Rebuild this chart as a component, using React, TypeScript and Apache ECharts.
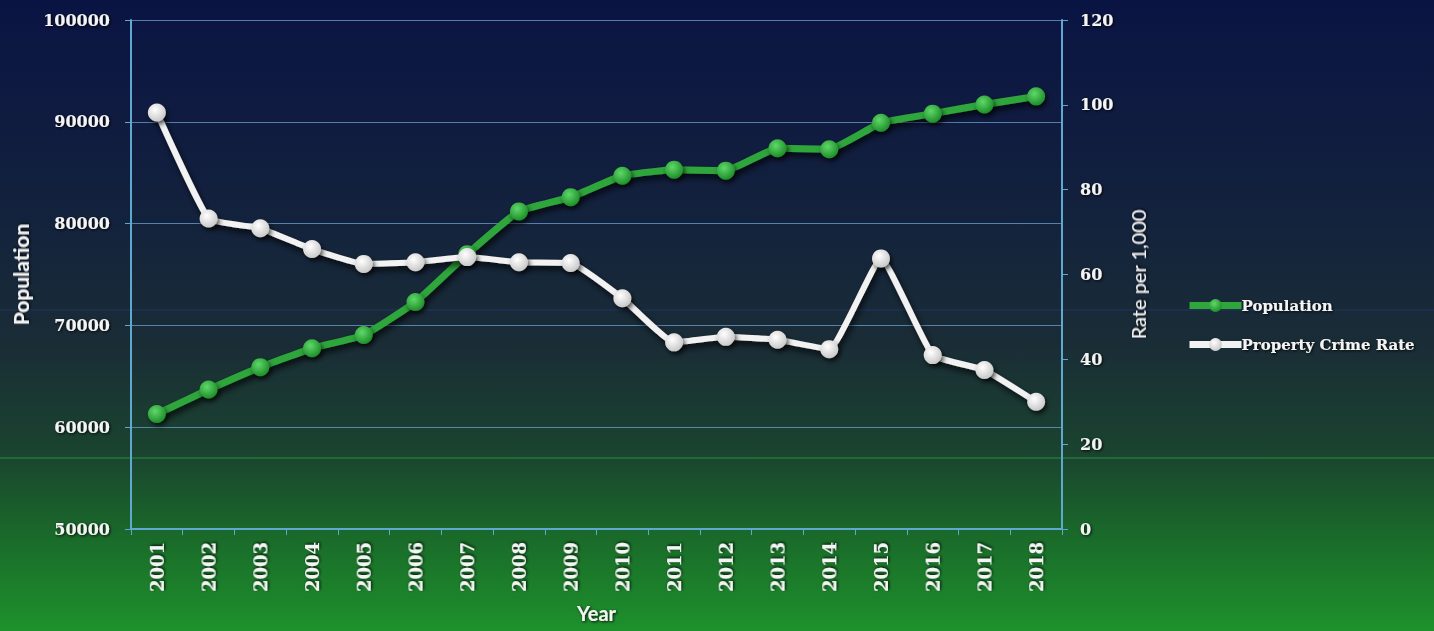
import React, { useEffect, useRef } from "react";
import * as echarts from "echarts";

// Years on the category axis
const years = [
  "2001", "2002", "2003", "2004", "2005", "2006", "2007", "2008", "2009",
  "2010", "2011", "2012", "2013", "2014", "2015", "2016", "2017", "2018",
];

// Resident population per year (left axis)
const population = [
  61300, 63700, 65900, 67750, 69050, 72300, 77000, 81200, 82600,
  84700, 85300, 85200, 87400, 87300, 89900, 90800, 91700, 92500,
];

// Property crimes per 1,000 residents (right axis)
const propertyCrimeRate = [
  98.2, 73.2, 70.9, 66.0, 62.5, 62.9, 64.1, 62.9, 62.7,
  54.4, 44.0, 45.3, 44.6, 42.4, 63.8, 41.0, 37.5, 30.0,
];

const serif = "'DejaVu Serif', 'Liberation Serif', serif";
const sans = "Lato, 'Open Sans', sans-serif";
const axisBlue = "#5fa8cf";

const shadowText = {
  color: "#f4f4f4",
  textShadowColor: "rgba(0,0,0,0.9)",
  textShadowBlur: 3,
  textShadowOffsetX: 1,
  textShadowOffsetY: 1,
};

export default function App() {
  const ref = useRef<HTMLDivElement>(null);

  useEffect(() => {
    if (!ref.current) return;
    const chart = echarts.init(ref.current, null, { renderer: "svg" });

    const greenBall = new echarts.graphic.RadialGradient(0.4, 0.35, 0.65, [
      { offset: 0, color: "#5fd86a" },
      { offset: 1, color: "#1f8f2a" },
    ]);
    const whiteBall = new echarts.graphic.RadialGradient(0.4, 0.35, 0.65, [
      { offset: 0, color: "#ffffff" },
      { offset: 1, color: "#c9c9c9" },
    ]);

    chart.setOption({
      animation: false,
      backgroundColor: new echarts.graphic.LinearGradient(0, 0, 0, 1, [
        { offset: 0, color: "#0a1443" },
        { offset: 0.3, color: "#12203e" },
        { offset: 0.55, color: "#1a2d36" },
        { offset: 0.72, color: "#1a442f" },
        { offset: 0.86, color: "#1a6d2a" },
        { offset: 1, color: "#1e912c" },
      ]),
      graphic: [
        {
          type: "line",
          shape: { x1: 0, y1: 458, x2: 1434, y2: 458 },
          style: { stroke: "rgba(60,200,80,0.55)", lineWidth: 1 },
          silent: true,
          z: -1,
        },
        {
          type: "line",
          shape: { x1: 0, y1: 310, x2: 1434, y2: 310 },
          style: { stroke: "rgba(60,80,200,0.3)", lineWidth: 1 },
          silent: true,
          z: -1,
        },
      ],
      grid: {
        left: 131,
        right: 372,
        top: 20,
        bottom: 102,
        containLabel: false,
        outerBoundsMode: "none",
      },
      legend: {
        orient: "vertical",
        left: 1181,
        top: 293,
        itemWidth: 52,
        itemHeight: 16,
        itemGap: 24,
        data: ["Population", "Property Crime Rate"],
        lineStyle: { width: 7 },
        textStyle: {
          ...shadowText,
          fontFamily: serif,
          fontWeight: "bold",
          fontSize: 15,
          padding: [0, 0, 0, -5],
        },
      },
      xAxis: {
        type: "category",
        data: years,
        boundaryGap: true,
        name: "Year",
        nameLocation: "middle",
        nameGap: 74,
        nameTextStyle: {
          ...shadowText,
          fontFamily: sans,
          fontWeight: "bold",
          fontSize: 20,
        },
        axisLine: { lineStyle: { color: axisBlue, width: 2 } },
        axisTick: { show: true, length: 6, lineStyle: { color: axisBlue } },
        axisLabel: {
          ...shadowText,
          rotate: 90,
          fontFamily: serif,
          fontWeight: "bold",
          fontSize: 18,
          margin: 13,
        },
        splitLine: { show: false },
      },
      yAxis: [
        {
          type: "value",
          min: 50000,
          max: 100000,
          interval: 10000,
          name: "Population",
          nameLocation: "middle",
          nameGap: 100,
          nameRotate: 90,
          nameTextStyle: {
            ...shadowText,
            fontFamily: sans,
            fontWeight: "bold",
            fontSize: 21,
          },
          axisLine: { show: true, lineStyle: { color: axisBlue, width: 2 } },
          axisTick: { show: true, length: 6, lineStyle: { color: axisBlue } },
          axisLabel: {
            ...shadowText,
            fontFamily: serif,
            fontWeight: "bold",
            fontSize: 16,
            margin: 21,
            formatter: (v: number) => String(v),
          },
          splitLine: {
            show: true,
            lineStyle: { color: "rgba(110,160,210,0.75)", width: 1.2 },
          },
        },
        {
          type: "value",
          min: 0,
          max: 120,
          interval: 20,
          name: "Rate per 1,000",
          nameLocation: "middle",
          nameGap: 66,
          nameRotate: 90,
          nameTextStyle: {
            ...shadowText,
            fontFamily: sans,
            fontWeight: "normal",
            fontSize: 20,
          },
          axisLine: { show: true, lineStyle: { color: axisBlue, width: 2 } },
          axisTick: { show: true, length: 6, lineStyle: { color: axisBlue } },
          axisLabel: {
            ...shadowText,
            fontFamily: serif,
            fontWeight: "bold",
            fontSize: 16,
            margin: 18,
          },
          splitLine: { show: false },
        },
      ],
      series: [
        {
          name: "Population",
          type: "line",
          yAxisIndex: 0,
          data: population,
          smooth: 0.12,
          symbol: "circle",
          symbolSize: 18,
          lineStyle: {
            color: "#2fa63a",
            width: 7,
            shadowColor: "rgba(0,0,0,0.75)",
            shadowBlur: 6,
            shadowOffsetX: 2,
            shadowOffsetY: 4,
          },
          itemStyle: {
            color: greenBall,
            borderWidth: 0,
            shadowColor: "rgba(0,0,0,0.7)",
            shadowBlur: 5,
            shadowOffsetX: 2,
            shadowOffsetY: 3,
          },
          z: 2,
        },
        {
          name: "Property Crime Rate",
          type: "line",
          yAxisIndex: 1,
          data: propertyCrimeRate,
          smooth: 0.12,
          symbol: "circle",
          symbolSize: 18,
          lineStyle: {
            color: "#f2f2f2",
            width: 6,
            shadowColor: "rgba(0,0,0,0.75)",
            shadowBlur: 6,
            shadowOffsetX: 2,
            shadowOffsetY: 4,
          },
          itemStyle: {
            color: whiteBall,
            borderWidth: 0,
            shadowColor: "rgba(0,0,0,0.7)",
            shadowBlur: 5,
            shadowOffsetX: 2,
            shadowOffsetY: 3,
          },
          z: 3,
        },
      ],
    });

    return () => chart.dispose();
  }, []);

  return <div ref={ref} style={{ width: 1434, height: 631, position: "absolute", left: 0, top: 0 }} />;
}
